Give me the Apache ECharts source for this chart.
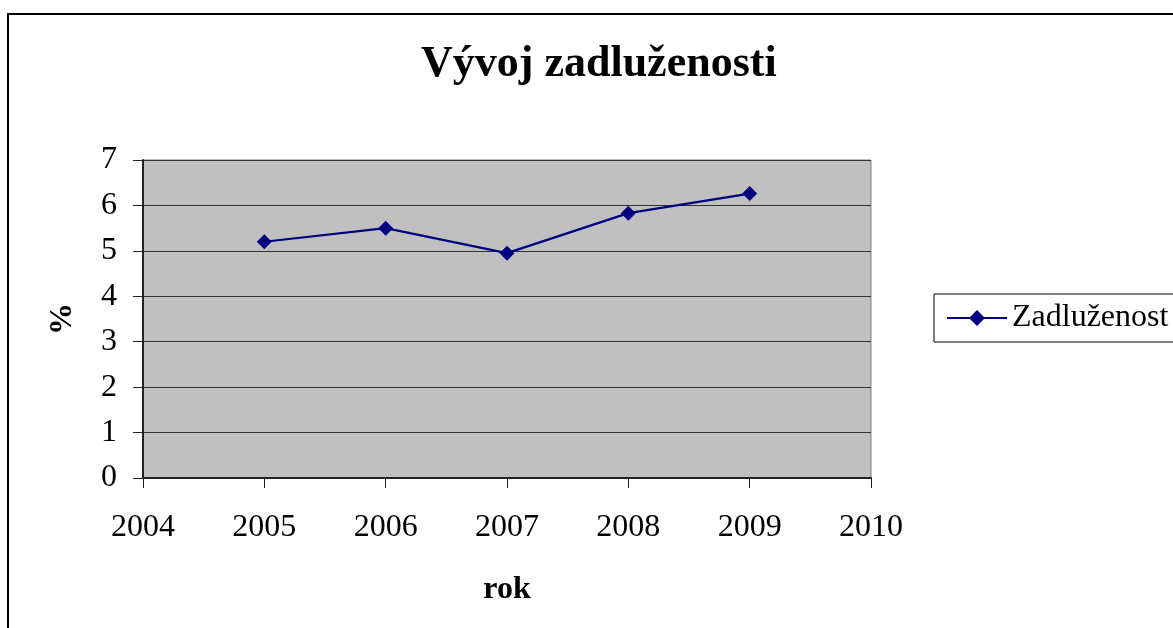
<!DOCTYPE html>
<html>
<head>
<meta charset="utf-8">
<script src="https://cdn.jsdelivr.net/npm/echarts@6/dist/echarts.min.js"></script>
<style>
  html,body{margin:0;padding:0;background:#fff;}
  #chart{width:1173px;height:628px;}
</style>
</head>
<body>
<div id="chart"></div>
<script>
// data
const years = [2005, 2006, 2007, 2008, 2009]
const zadluzenost = [5.2, 5.5, 4.95, 5.83, 6.26]
const seriesName = 'Zadluženost'

const serif = 'Liberation Serif'
const chart = echarts.init(document.getElementById('chart'))

const option = {
  backgroundColor: '#fff',
  animation: false,
  title: {
    text: 'Vývoj zadluženosti',
    left: 416,
    top: 38,
    textStyle: {fontFamily: serif, fontSize: 44, fontWeight: 'bold', color: '#000'}
  },
  legend: {
    data: [seriesName],
    left: 934,
    top: 294,
    orient: 'vertical',
    padding: [8, 40, 8, 12],
    borderColor: '#000',
    borderWidth: 1,
    itemWidth: 60,
    itemHeight: 20,
    itemGap: 0,
    textStyle: {fontFamily: serif, fontSize: 32, color: '#000'}
  },
  graphic: [{
    // outer chart border (cut off at right and bottom)
    type: 'rect',
    shape: {x: 8, y: 14, width: 1200, height: 700},
    style: {fill: 'none', stroke: '#000', lineWidth: 2},
    silent: true
  }],
  grid: {
    left: 143, top: 160, width: 728, height: 318,
    show: true,
    backgroundColor: '#c0c0c0',
    borderColor: '#808080',
    borderWidth: 1
  },
  xAxis: {
    type: 'value',
    min: 2004, max: 2010, interval: 1,
    name: 'rok',
    nameLocation: 'middle',
    nameGap: 96,
    nameTextStyle: {fontFamily: serif, fontSize: 32, fontWeight: 'bold', color: '#000'},
    axisLine: {onZero: false, lineStyle: {color: '#222', width: 2}},
    axisTick: {show: true, length: 10, lineStyle: {color: '#222', width: 1}},
    splitLine: {show: false},
    axisLabel: {margin: 34, fontFamily: serif, fontSize: 32, color: '#000', formatter: v => String(v)}
  },
  yAxis: {
    type: 'value',
    min: 0, max: 7, interval: 1,
    name: '%',
    nameLocation: 'middle',
    nameRotate: 90,
    nameGap: 64,
    nameTextStyle: {fontFamily: serif, fontSize: 32, fontWeight: 'bold', color: '#000'},
    axisLine: {show: true, lineStyle: {color: '#222', width: 2}},
    axisTick: {show: true, length: 10, lineStyle: {color: '#222', width: 1}},
    splitLine: {show: true, lineStyle: {color: '#333', width: 1}},
    axisLabel: {margin: 26, fontFamily: serif, fontSize: 32, color: '#000'}
  },
  series: [{
    name: seriesName,
    type: 'line',
    data: years.map((y, i) => [y, zadluzenost[i]]),
    symbol: 'diamond',
    symbolSize: 15,
    showAllSymbol: true,
    lineStyle: {color: '#000080', width: 2.2},
    itemStyle: {color: '#000080'}
  }]
}
chart.setOption(option)
</script>
</body>
</html>
